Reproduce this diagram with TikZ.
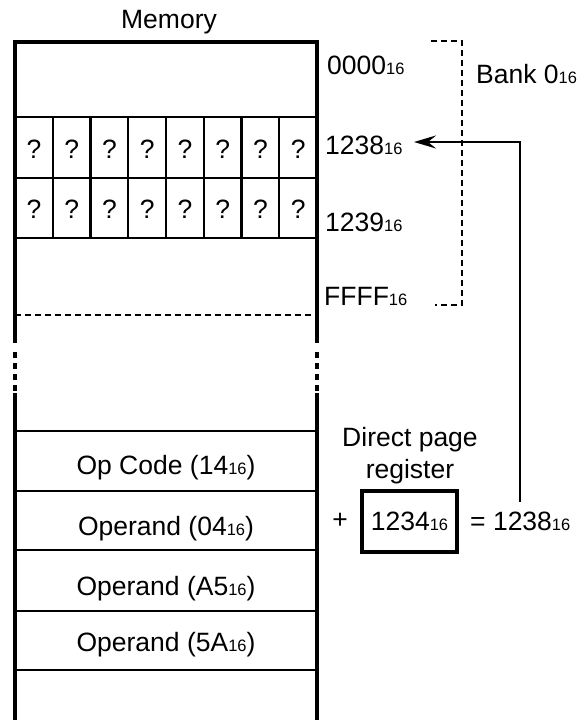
\documentclass[tikz,border=0pt]{standalone}
\usepackage{fontspec}
\setmainfont{Liberation Sans}
\usetikzlibrary{arrows.meta}
\newcommand\hsub[1]{{\fontsize{16.5}{16.5}\selectfont #1}}
\begin{document}
\begin{tikzpicture}[x=1pt,y=-1pt,
  txt/.style={inner sep=0pt, font=\fontsize{26.5}{30}\selectfont},
  outer/.style={line width=3.2pt},
  thin/.style={line width=2.2pt},
  dsh/.style={line width=2.2pt, dash pattern=on 6pt off 4pt},
  link/.style={line width=2.6pt, -{Stealth[length=22pt,width=13pt,inset=8pt]}}]
\useasboundingbox (0,0) rectangle (579,720);
% memory frame
\draw[outer] (13.4,42) -- (318.6,42);
\foreach \x in {15,317}{
  \draw[outer] (\x,42) -- (\x,343);
  \draw[outer, dash pattern=on 6pt off 5pt] (\x,352) -- (\x,392);
  \draw[outer] (\x,393) -- (\x,722);
}
% rows
\foreach \y in {117,178,238,431,491,550,611,670}
  \draw[thin] (15,\y) -- (317,\y);
\draw[dsh] (15,315) -- (317,315);
% cells
\foreach \k in {1,...,7}
  \draw[thin] ({15+\k*37.75},117) -- ({15+\k*37.75},238);
\foreach \k in {0,...,7}{
  \node[txt, anchor=base] (qa\k) at ({15+(\k+0.5)*37.75},158) {?};
  \node[txt, anchor=base] (qb\k) at ({15+(\k+0.5)*37.75},218) {?};
}
% title
\node[txt, anchor=base] (mem) at (169,28) {Memory};
% addresses
\node[txt, anchor=base west] (a0000) at (327,74) {0000\hsub{16}};
\node[txt, anchor=base west] (a1238) at (325,154) {1238\hsub{16}};
\node[txt, anchor=base west] (a1239) at (325,231) {1239\hsub{16}};
\node[txt, anchor=base west] (affff) at (324,305) {FFFF\hsub{16}};
% bank bracket
\draw[dsh] (431,41) -- (462,41) -- (462,305) -- (435,305);
\node[txt, anchor=base west] (bank) at (476,83) {Bank 0\hsub{16}};
% row texts
\node[txt, anchor=base] (op) at (166,474) {Op Code (14\hsub{16})};
\node[txt, anchor=base] (o1) at (166,535) {Operand (04\hsub{16})};
\node[txt, anchor=base] (o2) at (166,595) {Operand (A5\hsub{16})};
\node[txt, anchor=base] (o3) at (166,651) {Operand (5A\hsub{16})};
% direct page register
\node[txt, anchor=base] (dp1) at (410,446) {Direct page};
\node[txt, anchor=base] (dp2) at (410,478) {register};
\node[txt, draw, line width=3.2pt, minimum width=95pt, minimum height=61pt] (reg) at (409.5,521.5) {1234\hsub{16}};
\node[txt] (plus) at (340,521) {+};
\node[txt, anchor=west] (res) at (470,521) {= 1238\hsub{16}};
% arrow
\coordinate (from) at (520,502);
\coordinate (to) at (414,142);
\draw[link] (from) |- (to);
\end{tikzpicture}
\end{document}
